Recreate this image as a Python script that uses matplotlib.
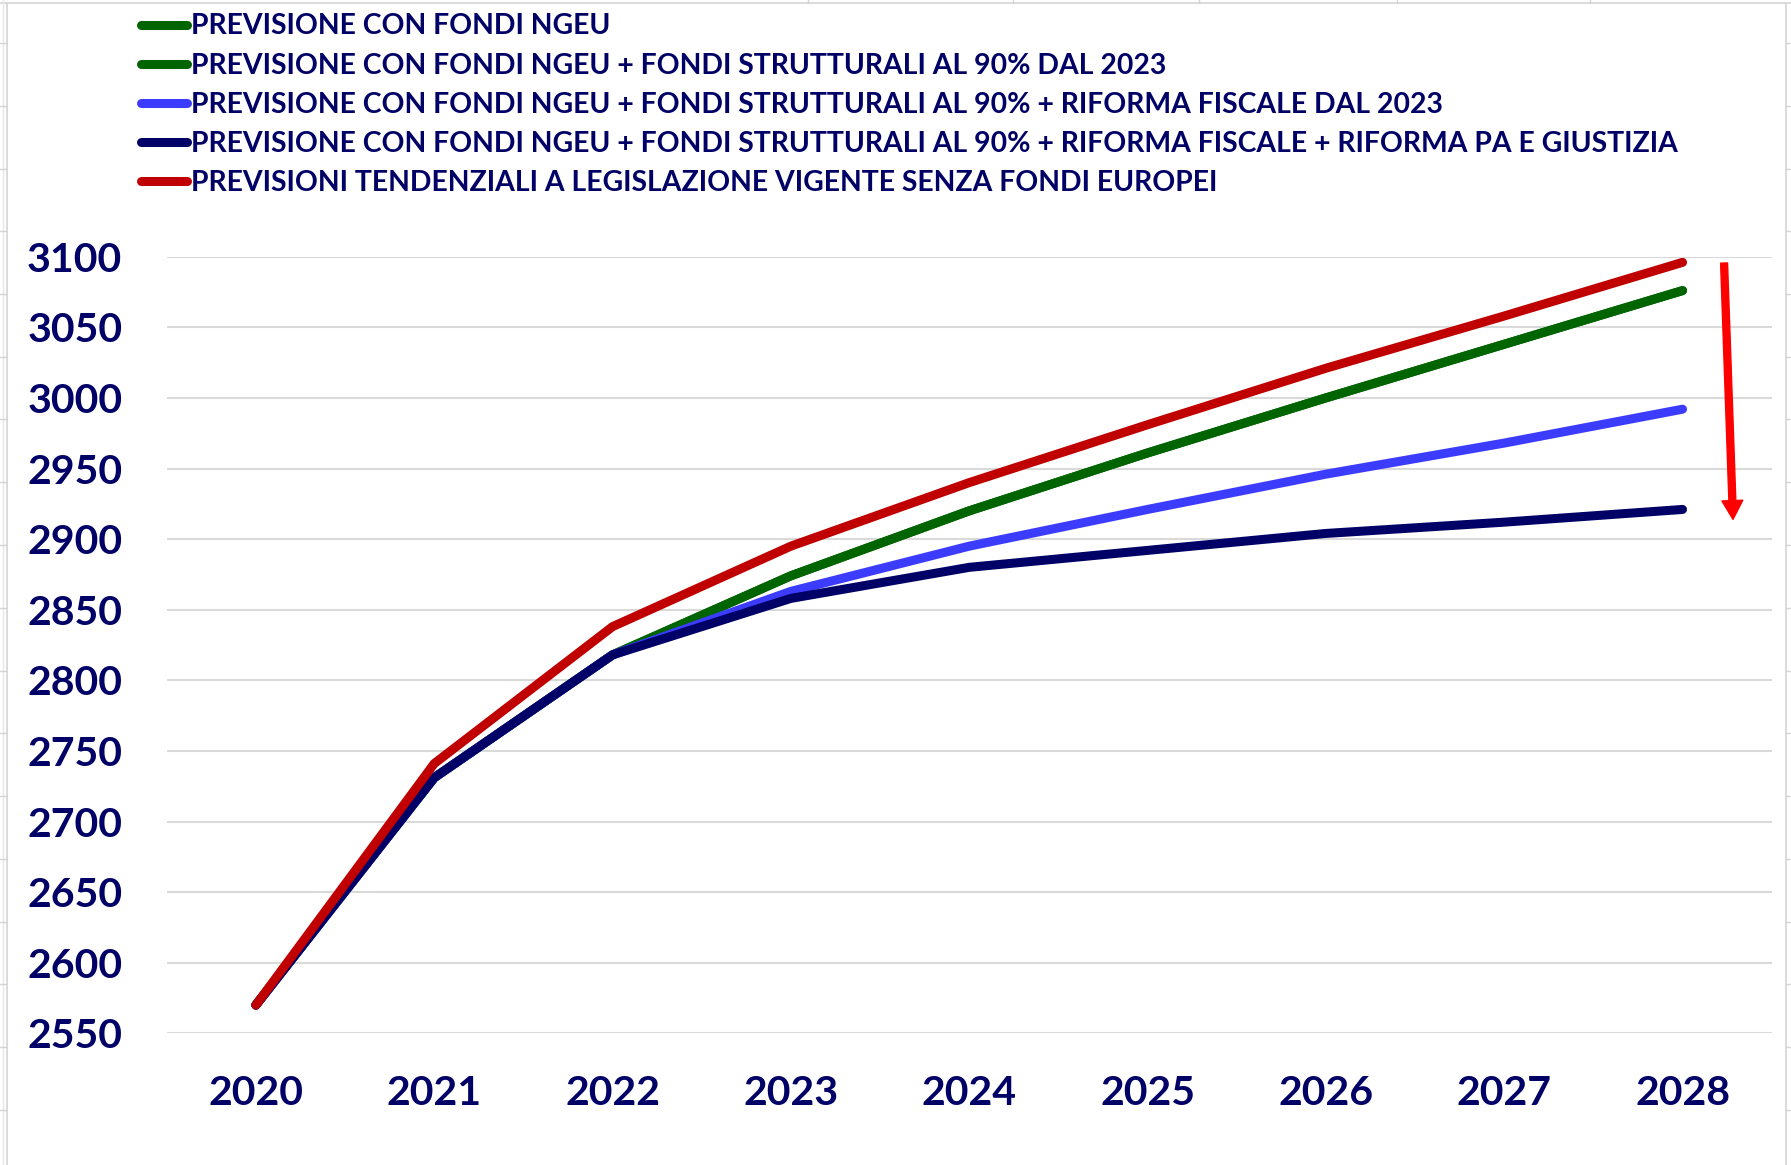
import matplotlib
matplotlib.use('Agg')
import matplotlib.pyplot as plt
from matplotlib.lines import Line2D

W, H = 1791, 1165

anni = ['2020', '2021', '2022', '2023', '2024', '2025', '2026', '2027', '2028']

ngeu = [2570, 2731, 2818, 2874, 2920, 2961, 3000, 3038, 3076]
ngeu_strutturali = [2570, 2731, 2818, 2874, 2920, 2961, 3000, 3038, 3076]
riforma_fiscale = [2570, 2731, 2818, 2863, 2895, 2921, 2946, 2968, 2992]
riforma_pa = [2570, 2731, 2818, 2858, 2880, 2892, 2904, 2912, 2921]
tendenziali = [2570, 2741, 2838, 2895, 2940, 2981, 3021, 3058, 3096]

etichette = [
    'PREVISIONE CON FONDI NGEU',
    'PREVISIONE CON FONDI NGEU + FONDI STRUTTURALI AL 90% DAL 2023',
    'PREVISIONE CON FONDI NGEU + FONDI STRUTTURALI AL 90% + RIFORMA FISCALE DAL 2023',
    'PREVISIONE CON FONDI NGEU + FONDI STRUTTURALI AL 90% + RIFORMA FISCALE + RIFORMA PA E GIUSTIZIA',
    'PREVISIONI TENDENZIALI A LEGISLAZIONE VIGENTE SENZA FONDI EUROPEI',
]
colori = ['#006400', '#006400', '#3c3cff', '#000066', '#c00000']
serie = [ngeu, ngeu_strutturali, riforma_fiscale, riforma_pa, tendenziali]

navy = '#000066'
plt.rcParams['font.family'] = ['Lato', 'DejaVu Sans']
plt.rcParams['font.weight'] = 'bold'

fig = plt.figure(figsize=(W / 100, H / 100), dpi=100)

# sfondo stile foglio Excel
grigio = '#d4d4d4'
def fx(x):
    return x / W
def fy(y):
    return 1 - y / H
fig.add_artist(Line2D([0, 1], [fy(3), fy(3)], color=grigio, lw=1.2))
fig.add_artist(Line2D([fx(7), fx(7)], [fy(3), 0], color=grigio, lw=1.2))
fig.add_artist(Line2D([fx(1786), fx(1786)], [fy(3), 0], color=grigio, lw=1.2))
fig.add_artist(Line2D([fx(3), fx(3)], [1, 0], color='#e6e6e6', lw=1))
for xc in [808, 1013, 1199, 1397, 1590]:
    fig.add_artist(Line2D([fx(xc), fx(xc)], [1, fy(3)], color=grigio, lw=1))
for k in range(18):
    yr = 43 + 62.75 * k
    fig.add_artist(Line2D([0, fx(7)], [fy(yr), fy(yr)], color=grigio, lw=1))
    fig.add_artist(Line2D([fx(1786), 1], [fy(yr), fy(yr)], color=grigio, lw=1))

ax = fig.add_axes([166.7 / W, 1 - 1033.3 / H, 1605 / W, (1033.3 - 256.7) / H])
x = list(range(len(anni)))
for s, c, lab in zip(serie, colori, etichette):
    ax.plot(x, s, color=c, lw=6.5, solid_capstyle='round', solid_joinstyle='round', label=lab)

ax.set_xlim(-0.5, 8.5)
ax.set_ylim(2550, 3100)
ax.set_yticks(range(2550, 3101, 50))
ax.set_xticks(x)
ax.set_xticklabels(anni)
ax.grid(axis='y', color='#d9d9d9', lw=1.5)
ax.set_axisbelow(True)
for sp in ax.spines.values():
    sp.set_visible(False)
ax.tick_params(axis='both', length=0, labelsize=29.5, labelcolor=navy)
ax.tick_params(axis='y', pad=32)
ax.tick_params(axis='x', pad=30)
for ln in ax.lines:
    ln.set_clip_on(False)

# freccia rossa
ax.annotate('', xy=(8.283, 2914), xytext=(8.233, 3095.5),
            arrowprops=dict(facecolor='#ff0000', edgecolor='#ff0000', width=5, headwidth=15,
                            headlength=13.5, shrink=0))

leg = ax.legend(loc='upper left', bbox_to_anchor=(141 / W, 1 - 13.5 / H), bbox_transform=fig.transFigure,
                frameon=False, fontsize=20.4, handlelength=1.63, handletextpad=0.15,
                labelspacing=0.46, borderaxespad=0, borderpad=0)
for t in leg.get_texts():
    t.set_color(navy)

fig.savefig('out.png', dpi=100, facecolor='white')
